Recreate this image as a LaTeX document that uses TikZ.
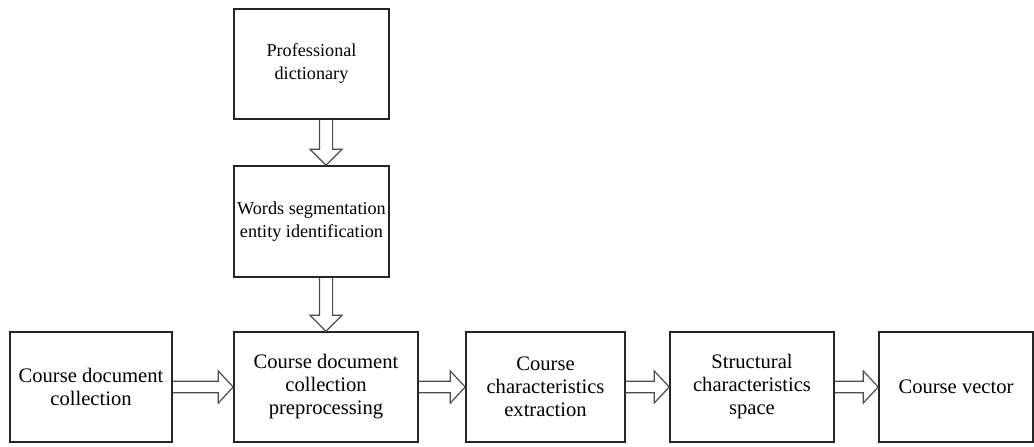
\documentclass[tikz,border=0pt]{standalone}
\usepackage{fontspec}
\setmainfont{Liberation Serif}
\usetikzlibrary{calc}

\tikzset{
  box/.style={draw=black!85,line width=0.75pt,align=center,inner sep=0pt,
    minimum height=55pt},
  topbox/.style={box,minimum width=77.5pt,font=\fontsize{9.1}{11.5}\selectfont},
  hollow/.style={draw=black!70,line width=0.6pt,line join=miter}
}

% hollow arrow, left to right between two boxes
\newcommand{\hollowh}[2]{%
  \draw[hollow] let \p1=(#1.east), \p2=(#2.west) in
    (\x1,\y1+2.9pt) -- (\x2-7.5pt,\y1+2.9pt) -- (\x2-7.5pt,\y1+8pt)
    -- (\x2,\y1) -- (\x2-7.5pt,\y1-8pt) -- (\x2-7.5pt,\y1-2.9pt) -- (\x1,\y1-2.9pt);}
% hollow arrow, top to bottom
\newcommand{\hollowv}[2]{%
  \draw[hollow] let \p1=(#1), \p2=(#2) in
    (\x1-3.3pt,\y1) -- (\x1-3.3pt,\y2+8pt) -- (\x1-8pt,\y2+8pt)
    -- (\x1,\y2) -- (\x1+8pt,\y2+8pt) -- (\x1+3.3pt,\y2+8pt) -- (\x1+3.3pt,\y1);}

\begin{document}
\begin{tikzpicture}[x=1pt,y=1pt,font=\fontsize{10.3}{11.5}\selectfont]
  \useasboundingbox (0,0) rectangle (517,-223);
  % upper column
  \node[topbox] (dict) at (155.75,-32) {Professional\\dictionary};
  \node[topbox,minimum height=55.5pt] (seg) at (155.75,-110.75)
       {Words segmentation\\entity identification};
  % main row
  \node[box,minimum width=81pt] (coll) at (45.5,-193.5) {Course document\\collection};
  \node[box,minimum width=92pt] (prep) at (163,-193.5)
       {Course document\\collection\\preprocessing};
  \node[box,minimum width=79.5pt] (extr) at (272.75,-193.5)
       {Course\\characteristics\\extraction};
  \node[box,minimum width=82pt] (space) at (376,-193.5)
       {Structural\\characteristics\\space};
  \node[box,minimum width=77pt] (vec) at (478,-193.5) {Course vector};
  % arrows
  \hollowv{dict.south -| prep.north}{seg.north -| prep.north}
  \hollowv{seg.south -| prep.north}{prep.north}
  \hollowh{coll}{prep}
  \hollowh{prep}{extr}
  \hollowh{extr}{space}
  \hollowh{space}{vec}
\end{tikzpicture}
\end{document}
